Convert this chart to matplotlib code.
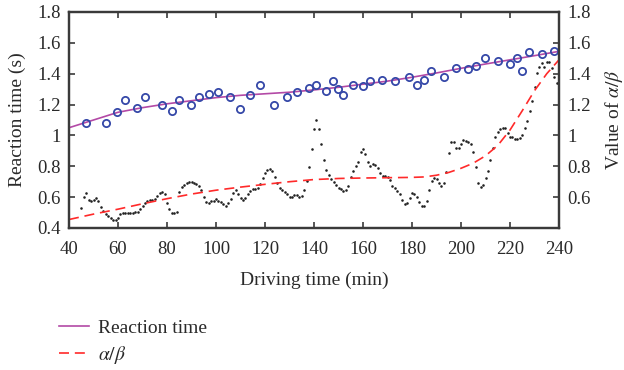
import matplotlib
matplotlib.use("Agg")
import matplotlib.pyplot as plt

plt.rcParams['font.family'] = ['Liberation Serif', 'DejaVu Serif']
plt.rcParams['mathtext.fontset'] = 'stix'

# Reaction time measurements (scatter)
rt_x = [46.8, 55, 59.7, 62.9, 67.9, 70.9, 77.8, 81.9, 84.9, 89.9, 92.9, 97, 100.9,
        105.8, 109.9, 113.9, 118, 123.8, 128.9, 132.9, 137.8, 140.8, 144.8, 147.9,
        149.9, 152, 156, 159.9, 163, 167.9, 172.9, 178.8, 181.9, 185, 187.9, 193,
        198, 202.9, 206, 209.9, 215, 220, 222.9, 224.9, 227.9, 232.9, 237.8]
rt_y = [1.08, 1.08, 1.15, 1.23, 1.18, 1.25, 1.20, 1.16, 1.23, 1.20, 1.25, 1.27, 1.28,
        1.25, 1.17, 1.26, 1.33, 1.20, 1.25, 1.28, 1.31, 1.33, 1.29, 1.35,
        1.30, 1.26, 1.33, 1.32, 1.35, 1.36, 1.35, 1.38, 1.33, 1.36, 1.42, 1.38,
        1.44, 1.43, 1.45, 1.50, 1.48, 1.46, 1.50, 1.42, 1.54, 1.53, 1.55]

# Reaction time fitted curve
fit_x = [40, 50, 60, 70, 80, 90, 100, 110, 120, 130, 140, 150, 160, 170, 180,
         190, 200, 210, 220, 230, 240]
fit_y = [1.05, 1.10, 1.15, 1.18, 1.205, 1.225, 1.245, 1.26, 1.27, 1.28, 1.295,
         1.312, 1.332, 1.352, 1.377, 1.405, 1.435, 1.463, 1.49, 1.517, 1.545]

# alpha/beta fitted curve
ab_fit_x = [40, 50, 60, 70, 80, 90, 100, 110, 120, 130, 140, 150, 160, 170, 180,
            185, 190, 195, 200, 205, 210, 215, 220, 225, 230, 235, 240]
ab_fit_y = [0.455, 0.49, 0.522, 0.557, 0.59, 0.62, 0.645, 0.665, 0.683, 0.70, 0.714,
            0.721, 0.724, 0.726, 0.728, 0.731, 0.742, 0.76, 0.787, 0.82, 0.868,
            0.935, 1.035, 1.16, 1.29, 1.40, 1.49]

# alpha/beta raw values (dotted)
ab_x = list(range(45, 240))
ab_y = [0.53, 0.60, 0.625, 0.58, 0.573, 0.58, 0.597, 0.577, 0.538, 0.51,
        0.492, 0.475, 0.463, 0.455, 0.453, 0.465, 0.49, 0.50, 0.50, 0.50,
        0.50, 0.50, 0.502, 0.505, 0.52, 0.54, 0.565, 0.575, 0.582, 0.582,
        0.59, 0.61, 0.627, 0.635, 0.62, 0.56, 0.52, 0.50, 0.495, 0.506,
        0.635, 0.668, 0.68, 0.694, 0.70, 0.698, 0.692, 0.685, 0.675, 0.645,
        0.60, 0.57, 0.565, 0.572, 0.578, 0.585, 0.578, 0.567, 0.556, 0.54,
        0.56, 0.585, 0.625, 0.646, 0.62, 0.593, 0.582, 0.593, 0.62, 0.643,
        0.651, 0.651, 0.657, 0.685, 0.722, 0.759, 0.776, 0.78, 0.767, 0.729,
        0.69, 0.657, 0.646, 0.635, 0.62, 0.60, 0.60, 0.612, 0.612, 0.602,
        0.605, 0.646, 0.705, 0.793, 0.91, 1.04, 1.10, 1.042, 0.945, 0.84,
        0.776, 0.741, 0.72, 0.70, 0.679, 0.661, 0.651, 0.642, 0.644, 0.672,
        0.729, 0.771, 0.80, 0.83, 0.891, 0.912, 0.878, 0.83, 0.804, 0.815,
        0.808, 0.787, 0.755, 0.737, 0.737, 0.733, 0.711, 0.674, 0.657, 0.642,
        0.62, 0.582, 0.556, 0.56, 0.593, 0.629, 0.62, 0.603, 0.571, 0.543,
        0.543, 0.577, 0.646, 0.707, 0.722, 0.72, 0.694, 0.672, 0.694, 0.761,
        0.884, 0.956, 0.956, 0.921, 0.921, 0.945, 0.97, 0.966, 0.96, 0.945,
        0.895, 0.794, 0.694, 0.664, 0.679, 0.722, 0.771, 0.84, 0.917, 0.988,
        1.024, 1.044, 1.05, 1.05, 1.014, 0.992, 0.99, 0.98, 0.98, 0.985,
        1.003, 1.046, 1.096, 1.16, 1.225, 1.312, 1.407, 1.446, 1.467, 1.446,
        1.478, 1.478, 1.44, 1.38, 1.342]

x_ticks = [40, 60, 80, 100, 120, 140, 160, 180, 200, 220, 240]
left_ticks = [0.4, 0.6, 0.8, 1.0, 1.2, 1.4, 1.6, 1.8]
left_labels = ['0.4', '0.6', '0.8', '1', '1.2', '1.4', '1.6', '1.8']
right_ticks = [0.6, 0.8, 1.0, 1.2, 1.4, 1.6, 1.8]
right_labels = ['0.6', '0.8', '1', '1.2', '1.4', '1.6', '1.8']

fig = plt.figure(figsize=(6.24, 3.70), dpi=100)
ax = fig.add_axes([69/624, 1-228/370, 490/624, 216/370])
ax2 = ax.twinx()

spine_c = '#3a3a3a'
text_c = '#2a2a2a'

ax.plot(rt_x, rt_y, linestyle='none', marker='o', markersize=5.2,
        markerfacecolor='none', markeredgecolor='#3548a8', markeredgewidth=1.3, zorder=4)
l1, = ax.plot(fit_x, fit_y, color='#b349a6', linewidth=1.2, zorder=3)

ax2.plot(ab_x, ab_y, linestyle='none', marker='.', markersize=1.7, color='#222222')
l2, = ax2.plot(ab_fit_x, ab_fit_y, color='#ff2a2a', linewidth=1.2,
               linestyle=(0, (6, 3.5)))

for a in (ax, ax2):
    a.set_xlim(40, 240)
    a.set_ylim(0.4, 1.8)
    for s in a.spines.values():
        s.set_color(spine_c)
        s.set_linewidth(1.6)

ax.set_xticks(x_ticks)
ax.set_xticklabels([str(t) for t in x_ticks])
ax.set_yticks(left_ticks)
ax.set_yticklabels(left_labels)
ax2.set_yticks(right_ticks)
ax2.set_yticklabels(right_labels)

ax.tick_params(axis='x', direction='in', length=4, width=1.2, color=spine_c,
               labelsize=13.5, labelcolor=text_c, top=True, pad=9)
ax.tick_params(axis='y', direction='in', length=4, width=1.2, color=spine_c,
               labelsize=13.5, labelcolor=text_c, pad=6)
ax2.tick_params(axis='y', direction='in', length=4, width=1.2, color=spine_c,
                labelsize=13.5, labelcolor=text_c, pad=6)

ax.set_xlabel('Driving time (min)', fontsize=14, color=text_c, labelpad=10)
ax.set_ylabel('Reaction time (s)', fontsize=14, color=text_c, labelpad=8)
ax2.set_ylabel(r'Value of $\alpha/\beta$', fontsize=14, color=text_c, labelpad=9)

fig.legend([l1, l2], ['Reaction time', r'$\alpha/\beta$'], loc='upper left',
           bbox_to_anchor=(41/624, 1-302/370), frameon=False, fontsize=14,
           handlelength=1.55, handletextpad=0.5, labelspacing=0.35,
           labelcolor=text_c)

fig.savefig('out.png', dpi=100)
